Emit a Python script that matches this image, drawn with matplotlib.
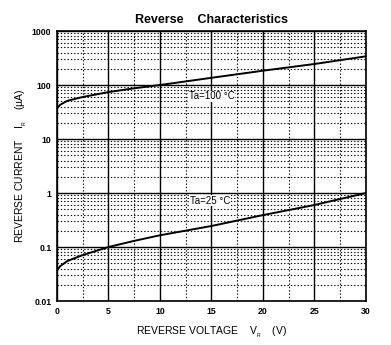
import matplotlib
matplotlib.use("Agg")
import matplotlib.pyplot as plt
from matplotlib.ticker import FixedLocator, NullFormatter

plt.rcParams['font.family'] = ['Liberation Sans', 'DejaVu Sans']

# reverse voltage (V) and leakage current (uA)
volts = [0, 0.3, 1, 2.5, 5, 7.5, 10, 15, 20, 25, 30]
ir_100c = [37, 43, 51, 60, 74, 87, 100, 136, 184, 245, 340]
ir_25c = [0.037, 0.044, 0.055, 0.071, 0.1, 0.13, 0.165, 0.245, 0.39, 0.6, 1.0]

x_ticks = [0, 5, 10, 15, 20, 25, 30]
y_ticks = [0.01, 0.1, 1, 10, 100, 1000]
y_ticklabels = ['0.01', '0.1', '1', '10', '100', '1000']

fig = plt.figure(figsize=(3.91, 3.45), dpi=100)
ax = fig.add_axes([0.1458, 0.1275, 0.790, 0.7826])

ax.set_yscale('log')
ax.set_xlim(0, 30)
ax.set_ylim(0.01, 1000)

ax.xaxis.set_major_locator(FixedLocator(x_ticks))
ax.xaxis.set_minor_locator(FixedLocator([2.5, 7.5, 12.5, 17.5, 22.5, 27.5]))
minor_y = [m * 10.0 ** e for e in range(-2, 3) for m in range(2, 10)]
ax.yaxis.set_major_locator(FixedLocator(y_ticks))
ax.yaxis.set_minor_locator(FixedLocator(minor_y))
ax.yaxis.set_minor_formatter(NullFormatter())
ax.set_yticklabels(y_ticklabels)

ax.grid(which='major', color='black', linestyle='-', linewidth=1.0)
ax.grid(which='minor', color='black', linestyle=(0, (1.2, 1.8)), linewidth=0.8)
ax.tick_params(which='both', length=0, labelsize=6.3, pad=4)
for lab in ax.get_xticklabels() + ax.get_yticklabels():
    lab.set_fontweight('bold')
for sp in ax.spines.values():
    sp.set_linewidth(1.2)

ax.plot(volts, ir_100c, color='black', linewidth=1.4, zorder=3)
ax.plot(volts, ir_25c, color='black', linewidth=1.4, zorder=3)

box = dict(facecolor='white', edgecolor='none', pad=0.5)
ax.text(12.8, 62, 'Ta=100 °C', fontsize=7, va='center', bbox=box, zorder=4)
ax.text(12.9, 0.72, 'Ta=25 °C', fontsize=7, va='center', bbox=box, zorder=4)

ax.set_title('Reverse    Characteristics', fontsize=9, fontweight='bold', pad=6)
ax.set_xlabel('REVERSE VOLTAGE    V$_{\\mathregular{_R}}$    (V)', fontsize=7.5, labelpad=7)
ax.set_ylabel('REVERSE CURRENT    I$_{\\mathregular{_R}}$    (µA)', fontsize=7.5, labelpad=2)

fig.savefig('out.png', dpi=100)
